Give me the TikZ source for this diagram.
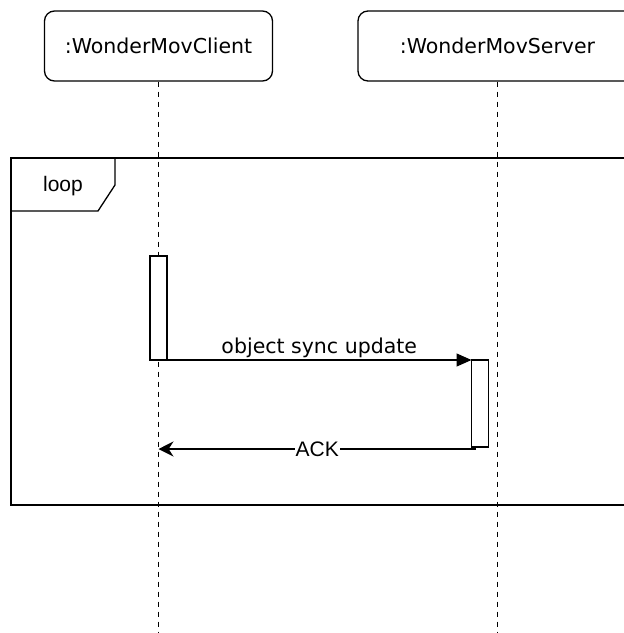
\documentclass[tikz,border=0pt]{standalone}
\usepackage{fontspec}
\setmainfont{DejaVu Sans}
\newfontfamily\labelfont{Liberation Sans}
\usetikzlibrary{arrows.meta}

\begin{document}
\begin{tikzpicture}[x=1pt,y=-1pt,
  lifebox/.style={draw, line width=1.3pt, rounded corners=10pt,
    minimum height=70pt, inner sep=0pt, font=\fontsize{20.5}{24}\selectfont},
  lifeline/.style={line width=1.8pt, dash pattern=on 5pt off 5pt},
  actbox/.style={draw, line width=1.3pt, fill=white, minimum width=17pt,
    inner sep=0pt, outer sep=0pt},
  msg/.style={line width=1.4pt},
  msgtext/.style={font=\fontsize{20.5}{24}\selectfont, inner sep=2pt},
  frameline/.style={line width=1.3pt},
  plaintext/.style={font=\labelfont\fontsize{21}{24}\selectfont, inner sep=1pt}]

\useasboundingbox (0,0) rectangle (624,633);
\clip (0,0) rectangle (624,633);

% participants
\node[lifebox, minimum width=228pt] (client) at (158.5,46) {:WonderMovClient};
\node[lifebox, minimum width=279pt] (server) at (497.5,46) {:WonderMovServer};

% loop combined fragment
\draw[frameline] (11,158) rectangle (650,505);
\draw[frameline] (11,211) -- (98,211) -- (115,185) -- (115,158);
\node[plaintext] (looplabel) at (63,186) {loop};

% lifelines
\coordinate (clientend) at (158.5,633);
\coordinate (serverend) at (497.5,633);
\draw[lifeline] (client.south) -- (clientend);
\draw[lifeline] (server.south) -- (serverend);

% activations
\node[actbox, minimum height=104pt] (ca) at (158.5,308) {};
\node[actbox, minimum height=87pt] (sa) at (480,403.5) {};

% messages
\draw[msg, -{Triangle[length=15pt, width=13pt]}] (ca.south east) -- (sa.north west)
  node[msgtext, midway, above] (synclabel) {object sync update};

\coordinate (ackstart) at (476,449);
\coordinate (ackend) at (158.5,449);
\draw[msg, -{Stealth[length=15pt, width=15pt]}] (ackstart) -- (ackend)
  node[plaintext, midway, fill=white] (acklabel) {ACK};
\end{tikzpicture}
\end{document}
